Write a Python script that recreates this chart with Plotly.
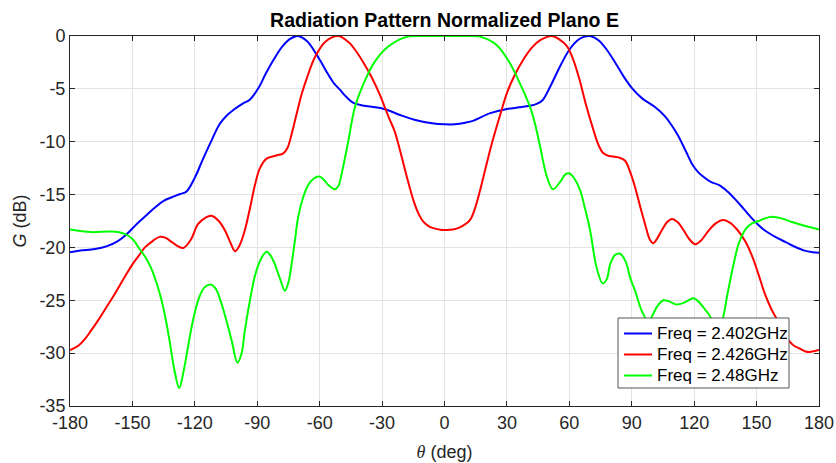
import plotly.graph_objects as go

# ---- data ----
theta_blue = [-180, -175, -168, -162.5, -157, -153, -148, -143, -139, -135, -131, -127, -124, -120,
              -116, -112, -108, -104.5, -101.5, -97, -93.5, -89.5, -86, -82.3, -78, -74, -70.5, -66,
              -62, -59.8, -56, -53, -50.2, -47, -44, -40, -35, -29, -21, -13, -6, 0, 5, 10, 14, 22,
              30, 36, 41, 44, 47, 50, 53, 56, 60, 64, 67, 70, 74, 78, 82, 86, 90, 95, 101, 106, 109,
              112.5, 116, 119, 122, 125, 128, 132, 136, 140, 144, 148, 151, 154, 159, 164, 168, 173,
              177, 180]
g_blue = [-20.45, -20.3, -20.15, -19.9, -19.4, -18.8, -17.8, -16.9, -16.2, -15.6, -15.25, -14.95, -14.7,
          -13.4, -11.6, -9.9, -8.3, -7.5, -7.0, -6.4, -6.0, -4.95, -3.6, -2.3, -1.0, -0.25, 0.0, -0.5,
          -1.6, -2.3, -3.6, -4.5, -5.1, -5.8, -6.3, -6.55, -6.7, -6.9, -7.5, -8.0, -8.25, -8.35, -8.35,
          -8.2, -8.0, -7.3, -6.9, -6.75, -6.6, -6.45, -6.1, -5.1, -3.9, -2.7, -1.3, -0.4, -0.08, 0.0,
          -0.4, -1.3, -2.5, -3.8, -4.9, -5.9, -6.7, -7.6, -8.4, -9.5, -10.9, -12.1, -12.9, -13.4, -13.8,
          -14.1, -14.7, -15.5, -16.4, -17.3, -17.9, -18.4, -19.0, -19.5, -19.9, -20.3, -20.45, -20.5]

theta_red = [-180, -176, -173, -170, -166.5, -162, -158.5, -154, -150, -147, -144, -140, -137, -134,
             -131, -128, -125.5, -122, -118.5, -115, -112, -108.5, -105.5, -103, -100.7, -98.5, -96,
             -93.5, -91, -88.7, -85.5, -80.7, -77.5, -75.5, -73.5, -71, -68.5, -66.2, -62, -57, -51,
             -46, -43, -39, -35, -31, -27, -24, -21.4, -18, -15, -12.5, -10.2, -7.5, -5, -2, 1, 4,
             7.4, 10, 12.3, 14.5, 17.1, 19.5, 21.9, 24, 27, 30, 34, 38, 42, 46, 51.6, 55, 59, 62, 65,
             68, 71.6, 74, 76.4, 79, 81, 84, 86.8, 89.3, 91.6, 94, 96.4, 98.8, 100.4, 102.4, 104.4,
             107, 109.3, 112, 115, 118, 120.5, 123, 127, 130.5, 134, 137.5, 141, 144.5, 148, 151, 154,
             157, 160, 162.5, 165.4, 168, 171, 173.5, 175.3, 178, 180]
g_red = [-29.7, -29.3, -28.7, -27.9, -26.9, -25.5, -24.4, -22.9, -21.6, -20.8, -20.0, -19.35, -19.0,
         -19.1, -19.5, -19.9, -20.05, -19.3, -17.8, -17.2, -17.0, -17.5, -18.4, -19.5, -20.35, -19.8,
         -18.4, -16.3, -14.0, -12.5, -11.6, -11.3, -11.1, -10.6, -9.3, -7.3, -5.4, -4.0, -1.9, -0.5,
         0.0, -0.6, -1.3, -2.5, -3.9, -5.6, -7.6, -9.0, -10.8, -13.4, -15.5, -16.8, -17.56, -18.0,
         -18.2, -18.33, -18.35, -18.3, -18.1, -17.8, -17.4, -16.4, -14.6, -12.7, -10.8, -9.3, -7.3,
         -5.4, -3.6, -2.2, -1.1, -0.4, 0.0, -0.3, -1.0, -2.3, -4.2, -6.5, -8.9, -10.3, -11.1, -11.35,
         -11.4, -11.5, -11.8, -12.9, -14.3, -16.1, -17.8, -19.3, -19.6, -19.1, -18.4, -17.6, -17.3,
         -17.6, -18.4, -19.3, -19.7, -19.4, -18.4, -17.7, -17.4, -17.7, -18.4, -19.4, -20.9, -22.6,
         -24.4, -25.8, -26.9, -27.9, -28.8, -29.3, -29.6, -29.85, -29.9, -29.8, -29.7]

theta_green = [-180, -170, -160, -154, -150, -146.4, -143.5, -140.7, -138, -136, -134, -132, -130,
               -127.5, -125.3, -123.2, -121, -118.4, -115.5, -112.5, -110, -107.2, -105, -102.3, -99.5,
               -97.5, -96, -93.5, -91, -88, -85.5, -83.5, -81.5, -79, -76.7, -75, -73.5, -72, -70.3,
               -68, -65.5, -63, -60.2, -58, -55.8, -52.6, -51, -49.4, -47.8, -46.2, -43, -38.2, -33.4,
               -27, -19, -11, 0, 11, 17, 25, 31.5, 36.3, 41.1, 43.5, 46, 49.2, 52.1, 55.6, 58, 60.1,
               62.5, 65.2, 67.5, 70, 73.1, 76, 78, 79.6, 82, 84.4, 87, 89.3, 91.6, 94.8, 98, 100.5,
               102.5, 105.2, 108, 111.6, 115.5, 119.6, 122.5, 125.3, 127.6, 130.5, 133.3, 136, 138.6,
               141.5, 145, 148, 151, 154, 157.4, 162, 167, 173, 180]
g_green = [-18.3, -18.55, -18.5, -18.7, -19.2, -20.2, -21.0, -22.1, -23.6, -25.0, -26.8, -29.0, -31.4,
           -33.3, -31.6, -29.3, -27.0, -25.0, -23.8, -23.5, -23.9, -25.3, -26.8, -28.8, -30.9, -30.0,
           -27.9, -25.0, -22.6, -21.0, -20.4, -20.8, -21.6, -23.0, -24.1, -23.3, -21.6, -19.5, -17.1,
           -15.3, -14.1, -13.5, -13.3, -13.6, -14.1, -14.5, -14.2, -13.0, -11.5, -9.9, -6.7, -4.2, -2.4,
           -1.0, -0.13, 0.0, 0.0, 0.0, -0.06, -0.85, -2.6, -4.5, -6.7, -8.3, -10.5, -13.3, -14.5, -13.8,
           -13.1, -13.0, -13.5, -14.6, -16.3, -18.4, -21.9, -23.4, -23.0, -21.6, -20.7, -20.6, -21.3,
           -22.9, -24.1, -26.0, -27.0, -26.2, -25.5, -25.0, -25.1, -25.4, -25.2, -24.8, -25.2, -25.9,
           -26.5, -27.8, -27.0, -24.4, -21.9, -19.6, -18.2, -17.7, -17.5, -17.25, -17.1, -17.25, -17.6,
           -17.95, -18.3]

names = ["Freq = 2.402GHz", "Freq = 2.426GHz", "Freq = 2.48GHz"]
colors = ["#0000ff", "#ff0000", "#00ff00"]

x_ticks = list(range(-180, 181, 30))
y_ticks = list(range(-35, 1, 5))

FONT = "Liberation Sans, Arial, Helvetica, sans-serif"
TXT = "#262626"

W, H = 836, 463
ML, MR, MT, MB = 70, 17, 36, 57
PW, PH = W - ML - MR, H - MT - MB


def px_to_paper(px, py):
    return (px - ML) / PW, (H - MB - py) / PH


fig = go.Figure()
for th, g, nm, c in zip([theta_blue, theta_red, theta_green], [g_blue, g_red, g_green], names, colors):
    fig.add_trace(go.Scatter(x=th, y=g, mode="lines", name=nm, showlegend=False,
                             line=dict(color=c, width=2, shape="spline", smoothing=1.0)))

axis_common = dict(showline=True, linecolor=TXT, linewidth=1, mirror="ticks", ticks="inside",
                   ticklen=5, tickcolor=TXT, showgrid=True, gridcolor="#e3e3e3", gridwidth=1,
                   zeroline=False, automargin=False, tickfont=dict(family=FONT, size=18, color=TXT))

fig.update_xaxes(range=[-180, 180], tickvals=x_ticks, ticktext=[str(v) for v in x_ticks],
                 title=dict(text="<span style='font-family:Liberation Serif'><i>θ</i></span> (deg)",
                            font=dict(family=FONT, size=18, color=TXT), standoff=13),
                 **axis_common)
fig.update_yaxes(range=[-35, 0], tickvals=y_ticks, ticktext=[str(v) for v in y_ticks],
                 title=dict(text="<i>G</i> (dB)", font=dict(family=FONT, size=18, color=TXT), standoff=8),
                 **axis_common)

# ---- legend box (drawn above the curves, like the reference) ----
shapes = []
annotations = []
x0, y0 = px_to_paper(618, 318)
x1, y1 = px_to_paper(789, 388)
shapes.append(dict(type="rect", xref="paper", yref="paper", x0=x0, y0=y1, x1=x1, y1=y0,
                   fillcolor="white", line=dict(color="#555555", width=1), layer="above"))
row_y = [333.5, 354.5, 375.5]
for nm, c, ry in zip(names, colors, row_y):
    lx0, ly = px_to_paper(624, ry)
    lx1, _ = px_to_paper(652, ry)
    shapes.append(dict(type="line", xref="paper", yref="paper", x0=lx0, x1=lx1, y0=ly, y1=ly,
                       line=dict(color=c, width=2), layer="above"))
    tx, _ = px_to_paper(655, ry)
    annotations.append(dict(text=nm, xref="paper", yref="paper", x=tx, y=ly, xanchor="left",
                            yanchor="middle", showarrow=False,
                            font=dict(family=FONT, size=17, color="black")))

fig.update_layout(
    width=W, height=H,
    margin=dict(l=ML, r=MR, t=MT, b=MB),
    paper_bgcolor="white", plot_bgcolor="white",
    title=dict(text="<b>Radiation Pattern Normalized Plano E</b>", x=0.5, xref="paper", xanchor="center",
               y=1 - 20 / H, yanchor="middle", yref="container",
               font=dict(family=FONT, size=19.5, color="black")),
    shapes=shapes, annotations=annotations,
    showlegend=False,
)

fig.write_html("out.html")
